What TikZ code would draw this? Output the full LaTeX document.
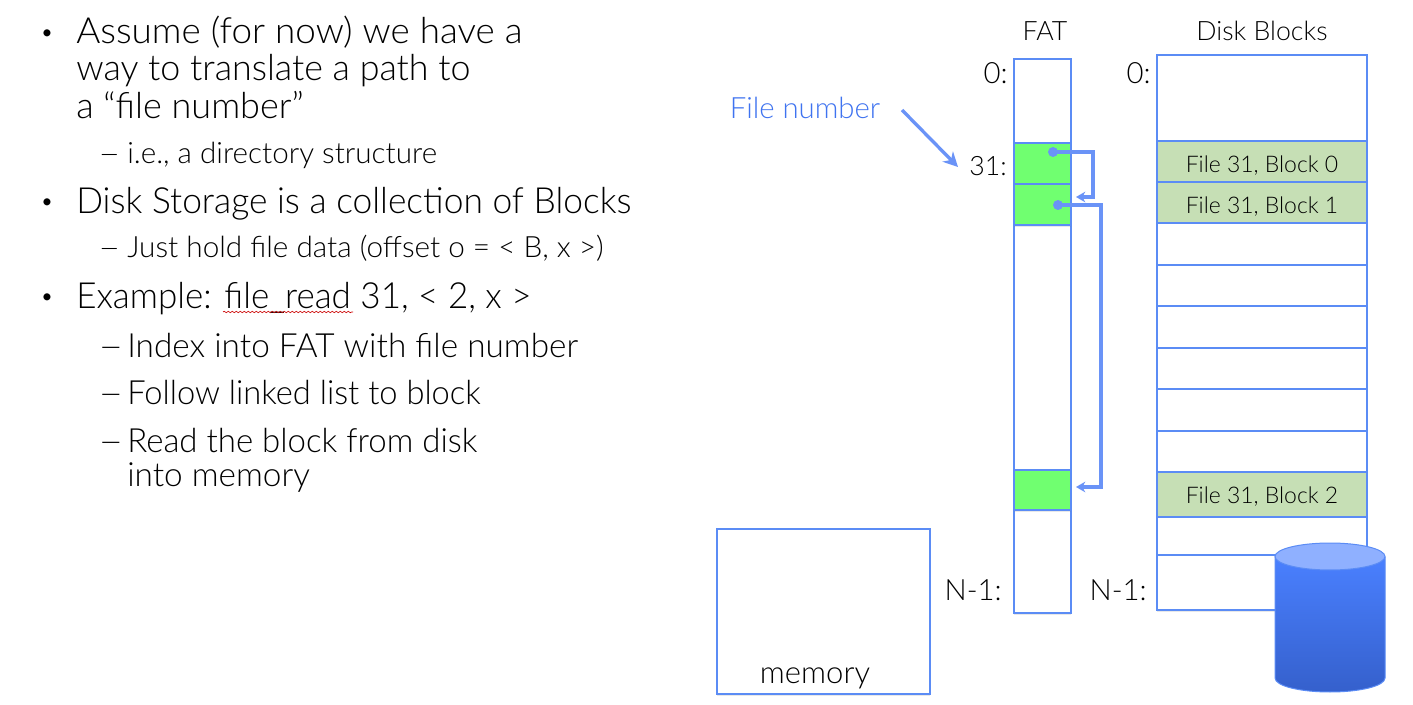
\documentclass[tikz,border=0pt]{standalone}
\usepackage{fontspec}
\setmainfont{Lato}[UprightFont=* Light]
\usetikzlibrary{shadows,decorations.pathmorphing,arrows.meta}
\definecolor{lineblue}{HTML}{5B8CF5}
\definecolor{arrowblue}{HTML}{6A93F7}
\definecolor{textblue}{HTML}{3F73F0}
\definecolor{fatgreen}{HTML}{70FF70}
\definecolor{blockgreen}{HTML}{C6DFB5}
\definecolor{cyltop}{HTML}{8FB0FF}
\definecolor{cylhi}{HTML}{4A80FF}
\definecolor{cyllo}{HTML}{3560CC}
\newcommand{\hsc}[2]{\scalebox{#1}[1]{#2}}
\newcommand{\low}[2]{\raisebox{-#1}[0pt][0pt]{#2}}
\tikzset{
  x=0.75pt,y=-0.75pt,
  softshadow/.style={drop shadow={opacity=.18,shadow xshift=0pt,shadow yshift=-1.2pt}},
  box/.style={draw=lineblue,line width=.8pt,fill=white,softshadow},
  fatcell/.style={draw=lineblue,line width=.8pt,fill=fatgreen,softshadow},
  blockcell/.style={draw=lineblue,line width=.8pt,fill=blockgreen},
  rowline/.style={draw=lineblue,line width=.8pt},
  bullettxt/.style={anchor=base west,inner sep=0pt,font=\fontsize{27}{27}\selectfont},
  subtxt/.style={anchor=base west,inner sep=0pt,font=\fontsize{22}{22}\selectfont},
  sub2txt/.style={anchor=base west,inner sep=0pt,font=\fontsize{25}{25}\selectfont},
  dotmark/.style={anchor=base,inner sep=0pt,font=\fontsize{18}{18}\selectfont},
  idx/.style={anchor=base east,inner sep=0pt,font=\fontsize{22}{22}\selectfont},
  head/.style={anchor=base,inner sep=0pt,font=\fontsize{20}{20}\selectfont},
  blocktxt/.style={inner sep=0pt,font=\fontsize{17.2}{17.2}\selectfont},
  link/.style={draw=arrowblue,line width=2.5pt,-{Stealth[length=7pt,width=8pt]}},
  dotnode/.style={circle,fill=arrowblue,inner sep=0pt,minimum size=7.5pt},
  blockshape/.style={blockcell,minimum width=157.5pt,blocktxt},
}
\begin{document}
\begin{tikzpicture}
\useasboundingbox (0,0) rectangle (1413,705);
\fill[white] (0,0) rectangle (1413,705);

% left text
\node[dotmark] (b1) at (47,41) {•};
\node[bullettxt] (l1) at (76,43.5) {\hsc{1.023}{Assume (for now) we have a}};
\node[bullettxt] (l2) at (76,81) {\hsc{.995}{way to translate a path to}};
\node[bullettxt] (l3) at (76,119) {a “file number”};
\node[subtxt] (d1) at (98,164) {\hsc{1.3}{–}};
\node[subtxt] (l4) at (127,164) {\hsc{1.01}{i.e., a directory structure}};
\node[dotmark] (b2) at (47,210) {•};
\node[bullettxt] (l5) at (76,214) {\hsc{.982}{Disk Storage is a collection of Blocks}};
\node[subtxt] (d2) at (98,258) {\hsc{1.3}{–}};
\node[subtxt] (l6) at (127,258) {\hsc{1.013}{Just hold file data (offset o = < B, x >)}};
\node[dotmark] (b3) at (47,305) {•};
\node[bullettxt] (l7) at (76,309) {\hsc{.972}{Example: file\_read 31, < 2, x >}};
\coordinate (sq1) at (223,312);
\coordinate (sq2) at (353,312);
\draw[red!80!black,line width=.5pt,decorate,decoration={snake,amplitude=.5pt,segment length=3pt}] (sq1) -- (sq2);
\node[sub2txt] (d3) at (98,358) {\hsc{1.3}{–}};
\node[sub2txt] (l8) at (127,358) {Index into FAT with file number};
\node[sub2txt] (d4) at (98,405) {\hsc{1.3}{–}};
\node[sub2txt] (l9) at (127,405) {\hsc{.98}{Follow linked list to block}};
\node[sub2txt] (d5) at (98,453) {\hsc{1.3}{–}};
\node[sub2txt] (l10) at (127,453) {\hsc{.99}{Read the block from disk}};
\node[sub2txt] (l11) at (127,487) {into memory};

% headers
\node[head] (hfat) at (1045,41) {FAT};
\node[head] (hdisk) at (1262,41) {Disk Blocks};

% FAT
\draw[box] (1014,59) rectangle (1071,613);
\draw[fatcell] (1014,143) rectangle (1071,184);
\draw[fatcell] (1014,184) rectangle (1071,225);
\draw[fatcell] (1014,470) rectangle (1071,510);
\node[idx] (i0) at (1008,84) {0:};
\node[idx,font=\fontsize{20}{20}\selectfont] (i31) at (1007,176) {31:};
\node[idx] (iN) at (1002,600) {N-1:};

% Disk blocks
\draw[box] (1157,55) rectangle (1367,610);
\foreach \y/\n in {265/a,306/b,348/c,389/d,431/e,517/f,555/g}{
  \draw[rowline] (1157,\y) -- (1367,\y);
}
\node[blockshape,minimum height=30.75pt] (blk0) at (1262,161.5) {\low{7.9pt}{File 31, Block 0}};
\node[blockshape,minimum height=30.75pt] (blk1) at (1262,202.5) {\low{7.9pt}{File 31, Block 1}};
\node[blockshape,minimum height=33.75pt] (blk2) at (1262,494.5) {\low{7.1pt}{File 31, Block 2}};
\node[idx] (j0) at (1151,84) {0:};
\node[idx] (jN) at (1147,600) {N-1:};

% links
\node[dotnode] (p1) at (1053,152) {};
\node[dotnode] (p2) at (1058,205) {};
\coordinate (c1a) at (1093,152);
\coordinate (c1b) at (1093,197);
\coordinate (t1) at (1076,197);
\coordinate (c2a) at (1101,205);
\coordinate (c2b) at (1101,487);
\coordinate (t2) at (1076,487);
\draw[link] (p1.center) -- (c1a) -- (c1b) -- (t1);
\draw[link] (p2.center) -- (c2a) -- (c2b) -- (t2);

% file number
\node[inner sep=0pt,anchor=base,text=textblue,font=\fontsize{22}{22}\selectfont] (fn) at (805,119) {File number};
\coordinate (fs) at (902,110);
\coordinate (fe) at (958,167);
\draw[link,-{Stealth[length=11pt,width=11pt]}] (fs) -- (fe);

% memory
\draw[box] (717,529) rectangle (930,694);
\node[inner sep=0pt,anchor=base,font=\fontsize{23.3}{23.3}\selectfont] (mem) at (815,683) {memory};

% cylinder
\path[softshadow,fill=white] (1275,557) -- (1275,678) arc[start angle=180,end angle=360,x radius=55,y radius=14] -- (1385,557) -- cycle;
\draw[draw=lineblue,line width=.75pt,top color=cylhi,bottom color=cyllo,shading angle=0] (1275,557) -- (1275,678) .. controls (1275,686) and (1300,692) .. (1330,692) .. controls (1360,692) and (1385,686) .. (1385,678) -- (1385,557) -- cycle;
\draw[draw=lineblue,line width=.75pt,fill=cyltop] (1330,556.5) ellipse[x radius=55,y radius=13.5];
\end{tikzpicture}
\end{document}
